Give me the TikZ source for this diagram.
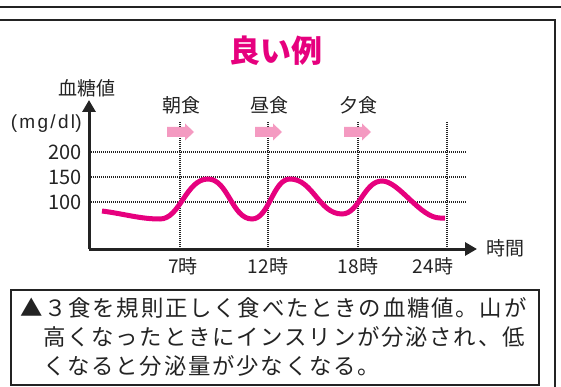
\documentclass[tikz,border=0pt]{standalone}
\usepackage{fontspec}
\setmainfont{Noto Sans CJK JP}
\newfontfamily\capfont[LetterSpace=8]{Noto Sans CJK JP}
\newfontfamily\unitfont[LetterSpace=12]{Liberation Sans}
\usetikzlibrary{arrows.meta}
\definecolor{mag}{RGB}{230,0,126}
\definecolor{pk}{RGB}{244,154,193}
\definecolor{ink}{RGB}{35,35,35}
\tikzset{
 lbl/.style={inner sep=0pt, font=\fontsize{19}{19}\selectfont, text=ink},
 ticklbl/.style={inner sep=0pt, anchor=east, font=\fontsize{20}{20}\selectfont, text=ink},
 gridline/.style={line width=1.2pt, dash pattern=on 1pt off 1pt, ink},
 axisline/.style={line width=3pt, ink, -{Triangle[width=13pt,length=12pt]}},
 mealarrow/.style={fill=pk, draw=none},
 capline/.style={inner sep=0pt, anchor=west, font=\capfont\fontsize{22.4}{22.4}\selectfont, text=ink},
 unitlbl/.style={inner sep=0pt, text=ink, font=\unitfont\fontsize{19}{19}\selectfont},
 curve/.style={mag, line width=5pt},
}
\begin{document}
\begin{tikzpicture}[x=1pt,y=-1pt]
\useasboundingbox (0,0) rectangle (561,387);
% frame
\draw[line width=2.5pt, ink] (0,7) -- (561,7);
\draw[line width=1.5pt, ink] (0,20) -- (555,20) -- (555,392);
% title
\node[inner sep=0pt, font=\bfseries\fontsize{31}{31}\selectfont, text=mag] (title) at (276,51) {良い例};
% coordinates
\coordinate (O) at (89,249);
\coordinate (ytop) at (89,100);
\coordinate (xend) at (477,249);
% horizontal grid
\foreach \y/\v in {152/200,177/150,202/100}{
  \coordinate (g\v a) at (89,\y);
  \coordinate (g\v b) at (467,\y);
  \draw[gridline] (g\v a) -- (g\v b);
  \node[ticklbl] (t\v) at (82,\y) {\v};
}
% vertical grid
\foreach \x/\n in {180/7,268/12,358/18,447/24}{
  \coordinate (v\n a) at (\x,122);
  \coordinate (v\n b) at (\x,249);
  \draw[gridline] (v\n a) -- (v\n b);
}
% axes
\draw[axisline] (O) -- (ytop);
\draw[axisline] (O) -- (xend);
% axis labels
\node[lbl] (ylab) at (87,88) {血糖値};
\node[unitlbl, anchor=east] (unitr) at (82,124) {\char"0029};
\node[unitlbl, anchor=east] (unit) at (unitr.west) {(mg/dl};
\node[lbl] (xlab) at (505,248) {時間};
% time labels
\node[lbl] (h7) at (183,266) {7時};
\node[lbl] (h12) at (268,266) {12時};
\node[lbl] (h18) at (358,266) {18時};
\node[lbl] (h24) at (433,266) {24時};
% meal labels
\node[lbl] (m1) at (181,105) {朝食};
\node[lbl] (m2) at (269,105) {昼食};
\node[lbl] (m3) at (358,105) {夕食};
% meal arrows
\foreach \x in {167,255,344}{
  \fill[mealarrow] (\x,127) -- (\x+18,127) -- (\x+18,123.5) -- (\x+27,132) -- (\x+18,140.5) -- (\x+18,137) -- (\x,137) -- cycle;
}
% glucose curve
\draw[curve] (102,211) .. controls (125,214) and (140,219) .. (160,219)
  .. controls (180,219) and (186,179) .. (208,179)
  .. controls (228,179) and (232,219) .. (252,219)
  .. controls (269,219) and (273,179) .. (290,179)
  .. controls (313,179) and (319,214) .. (342,214)
  .. controls (359,214) and (364,181) .. (382,181)
  .. controls (399,181) and (420,218) .. (440,218) -- (445,218);
% caption
\draw[line width=1.5pt, ink] (11,290) rectangle (539,385);
\node[capline] (c1) at (20,308) {▲３食を規則正しく食べたときの血糖値。山が};
\node[capline] (c2) at (43,337) {高くなったときにインスリンが分泌され、低};
\node[capline] (c3) at (43,366) {くなると分泌量が少なくなる。};
\end{tikzpicture}
\end{document}
